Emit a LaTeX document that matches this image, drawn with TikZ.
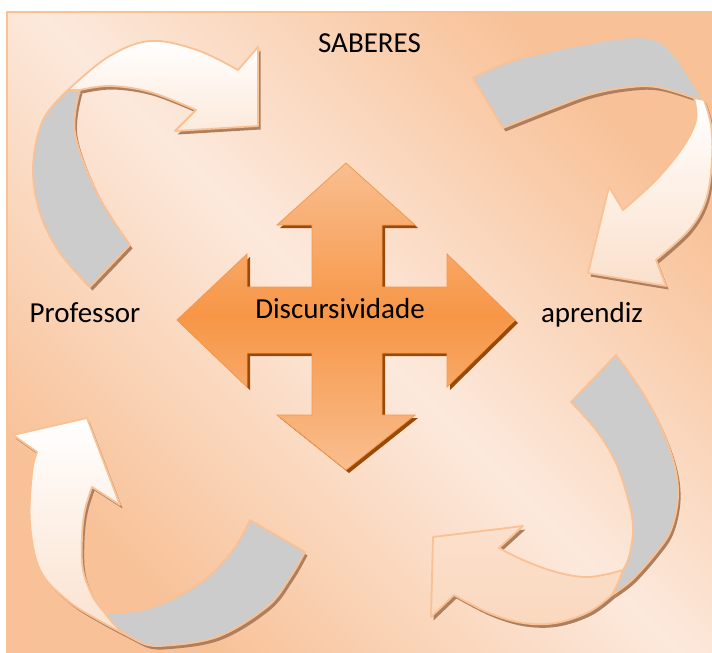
\documentclass[tikz,border=0pt]{standalone}
\usepackage{fontspec}
\setmainfont{Carlito}
\definecolor{bgdark}{HTML}{F8C197}
\definecolor{bglight}{HTML}{FCE9DC}
\definecolor{frameline}{HTML}{F9C294}
\definecolor{ribbonline}{HTML}{F9C194}
\definecolor{backgray}{HTML}{CCCCCC}
\definecolor{thickbrown}{HTML}{AE7F5E}
\definecolor{peachfront}{HTML}{FAD8BE}
\definecolor{paleend}{HTML}{FBE0CC}
\definecolor{crossmid}{HTML}{F79646}
\definecolor{crossend}{HTML}{F9BE90}
\definecolor{crossshadow}{HTML}{9A4A08}
\definecolor{crossline}{HTML}{F5994C}
\begin{document}
\begin{tikzpicture}[x=1pt,y=-1pt,
  ribbon/.style={draw=ribbonline, line width=1.8pt, line join=round},
  thickness/.style={fill=thickbrown, shift={(2.5,3.5)}},
  label/.style={font=\fontsize{29}{34}\selectfont, text=black, inner sep=0pt, anchor=base},
  sm/.style={smooth, tension=0.6}]
% canvas and framed background
\useasboundingbox (0,0) rectangle (712,653);
\fill[white] (0,0) rectangle (712,653);
\shade[top color=bgdark, bottom color=bgdark, middle color=bglight, shading angle=-45]
  (7,12) rectangle (712,653);
\draw[frameline, line width=1.8pt] (712,12) -- (7,12) -- (7,653);

% ---- ribbon outlines ----
\def\aOneWhite{plot[sm] coordinates {(68,90) (108,57) (150,41) (197,50) (238,70)} -- (258,47) -- (258,126) -- (175,131) -- plot[sm] coordinates {(196,110) (150,92) (110,86) (80,90)} -- cycle}
\def\aOneGray{plot[sm] coordinates {(68,90) (43,120) (33,167) (40,213) (60,253) (90,287)} -- (130,245) -- plot[sm] coordinates {(130,245) (97,193) (75,133) (80,90)} -- cycle}
\def\aTwoGray{plot[sm] coordinates {(473,78) (506,63) (556,50) (623,38) (656,40) (676,57) (689,77) (704,100)} -- (694,98) -- plot[sm] coordinates {(694,98) (656,87) (623,88) (589,95) (556,107) (503,128)} -- cycle}
\def\aTwoWhite{plot[sm] coordinates {(704,100) (711,125) (712,160) (706,200) (689,230) (656,260)} -- (666,286) -- (588,273) -- (609,187) -- plot[sm] coordinates {(623,210) (656,180) (683,147) (696,120) (694,98)} -- cycle}
\def\aThreeWhite{(13,435) -- (87,418) -- (120,505) -- plot[sm] coordinates {(92,487) (85,510) (82,537) (83,570) (93,597) (105,613)} -- plot[sm] coordinates {(105,613) (120,630) (140,642)} -- plot[sm] coordinates {(140,642) (100,621) (67,600) (40,570) (30,523) (32,473) (37,452)} -- cycle}
\def\aThreeGray{plot[sm] coordinates {(105,613) (150,608) (200,583) (233,550) (250,520)} -- (305,552) -- plot[sm] coordinates {(305,552) (290,578) (267,607) (217,637) (160,646) (140,642)} -- plot[sm] coordinates {(140,642) (120,630) (105,613)} -- cycle}
\def\aFourGray{plot[sm] coordinates {(616,355) (639,387) (659,423) (674,463) (678,497) (671,530) (656,553) (632,580) (612,595)} -- plot[sm] coordinates {(612,595) (618,583) (623,570)} -- plot[sm] coordinates {(623,570) (629,557) (633,530) (629,503) (616,463) (596,430) (571,402)} -- cycle}
\def\aFourFront{plot[sm] coordinates {(612,595) (589,612) (556,623) (523,623) (489,613) (454,595)} -- (431,617) -- (433,537) -- (523,526) -- plot[sm] coordinates {(499,548) (523,560) (556,572) (589,577) (623,570)} -- plot[sm] coordinates {(623,570) (618,583) (612,595)} -- cycle}

% thickness edges under each ribbon
\fill[thickness] \aOneWhite;  \fill[thickness] \aOneGray;
\fill[thickness] \aTwoWhite;  \fill[thickness] \aTwoGray;
\fill[thickness] \aThreeWhite; \fill[thickness] \aThreeGray;
\fill[thickness] \aFourFront; \fill[thickness] \aFourGray;

% top-left ribbon
\shade[ribbon, top color=white, bottom color=paleend!70] \aOneWhite;
\filldraw[ribbon, fill=backgray] \aOneGray;
% top-right ribbon
\filldraw[ribbon, fill=backgray] \aTwoGray;
\shade[ribbon, top color=white, bottom color=paleend] \aTwoWhite;
% bottom-left ribbon
\shade[ribbon, top color=white, bottom color=paleend] \aThreeWhite;
\filldraw[ribbon, fill=backgray] \aThreeGray;
% bottom-right ribbon
\filldraw[ribbon, fill=backgray] \aFourGray;
\shade[ribbon, top color=paleend, bottom color=peachfront] \aFourFront;

% ---- central four-way arrow ----
\def\crossPath{(346,163) -- (415,225) -- (382,225) -- (382,287) -- (447,287) -- (447,254) -- (515,320) -- (447,387) -- (447,353) -- (382,353) -- (382,415) -- (415,415) -- (346,470) -- (277,415) -- (312,415) -- (312,353) -- (247,353) -- (247,387) -- (177,320) -- (247,254) -- (247,287) -- (312,287) -- (312,225) -- (277,225) -- cycle}
\fill[crossshadow, shift={(3,3)}] \crossPath;
\shade[draw=crossline, line width=0.8pt, top color=crossend, bottom color=crossend, middle color=crossmid] \crossPath;

% ---- labels ----
\node[label] (saberes) at (369.5,52) {SABERES};
\node[label] (professor) at (85,322) {Professor};
\node[label] (discurso) at (340,318) {Discursividade};
\node[label] (aprendiz) at (592,322) {aprendiz};
\end{tikzpicture}
\end{document}
